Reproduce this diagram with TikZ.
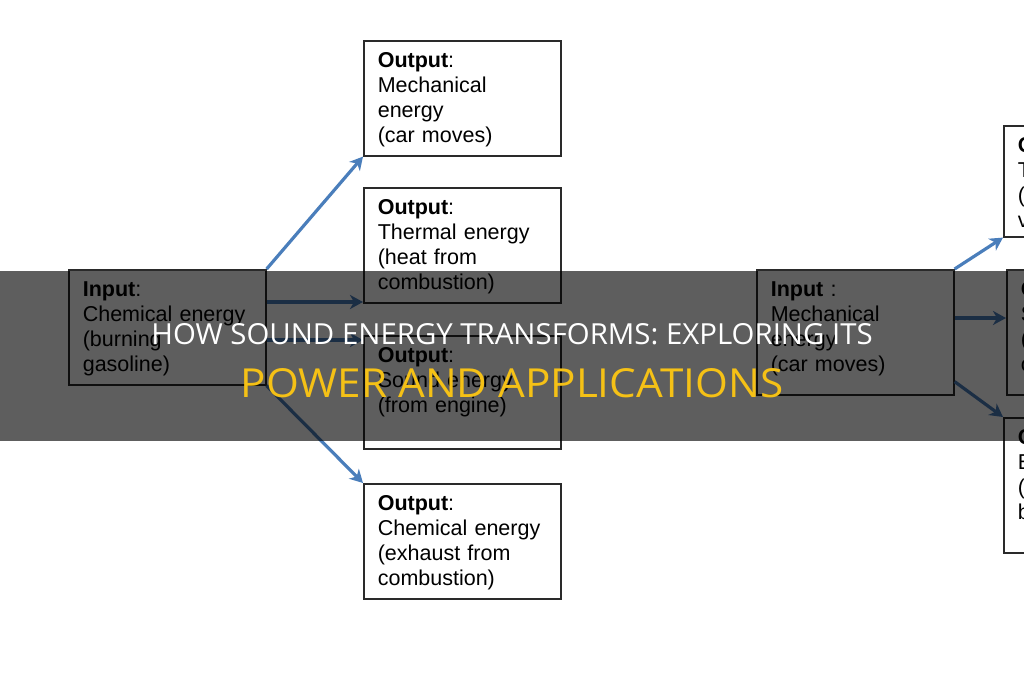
\documentclass[tikz,border=0pt]{standalone}
\usepackage{fontspec}
\setmainfont{Liberation Sans}
\newfontfamily\titlefont{Open Sans}
\usetikzlibrary{arrows.meta,calc}
\definecolor{arrowblue}{HTML}{4A7EBB}
\definecolor{titleyellow}{HTML}{F5C116}
\definecolor{boxline}{HTML}{2A2A2A}
\begin{document}
\begin{tikzpicture}[x=1pt,y=-1pt,
  box/.style={draw=boxline, line width=1.6pt, anchor=north west, align=left,
    inner xsep=14pt, inner ysep=0pt, text width=169pt,
    font=\fontsize{21.5}{25}\selectfont, text height=27pt},
  arr/.style={draw=arrowblue, line width=3.2pt,
    -{Stealth[length=13pt,width=14pt,inset=4pt]}},
  band/.style={fill=black, fill opacity=0.63, draw=none},
  title1/.style={text=white, font=\titlefont\fontsize{29}{31}\selectfont, inner sep=0pt, xscale=1.013, transform shape},
  title2/.style={text=titleyellow, font=\titlefont\fontsize{40}{42}\selectfont, inner sep=0pt, xscale=1.055, transform shape}]
\useasboundingbox (0,0) rectangle (1024,680);
\clip (0,0) rectangle (1024,680);
\fill[white] (0,0) rectangle (1024,680);
% left diagram
\node[box, text depth=88pt] (in1) at (68,269) {\textbf{Input}:\\Chemical energy\\(burning\\gasoline)};
\node[box, text depth=88pt] (o1) at (363,40) {\textbf{Output}:\\Mechanical\\energy\\(car moves)};
\node[box, text depth=88pt] (o2) at (363,187) {\textbf{Output}:\\Thermal energy\\(heat from\\combustion)};
\node[box, text depth=86pt] (o3) at (363,335) {\textbf{Output}:\\Sound energy\\(from engine)};
\node[box, text depth=88pt] (o4) at (363,483) {\textbf{Output}:\\Chemical energy\\(exhaust from\\combustion)};
\draw[arr] (in1.north east) -- (o1.south west);
\draw[arr] ([yshift=-33pt]in1.north east) -- ([yshift=-33pt]in1.north east -| o2.west);
\draw[arr] ([yshift=-71pt]in1.north east) -- ([yshift=-71pt]in1.north east -| o3.west);
\draw[arr] (in1.south east) -- (o4.north west);
% right diagram
\node[box, text depth=98pt] (in2) at (756,269) {\textbf{Input} :\\Mechanical\\energy\\(car moves)};
\node[box, text depth=84pt] (r1) at (1003,125) {\textbf{Output}:\\Thermal energy\\(friction of\\vehicle)};
\node[box, text depth=98pt] (r2) at (1006,269) {\textbf{Output}:\\Sound energy\\(noise of\\car)};
\node[box, text depth=108pt] (r3) at (1003,417) {\textbf{Output}:\\Electrical energy\\(charging\\battery)};
\draw[arr] (in2.north east) -- (r1.south west);
\draw[arr] ([yshift=-49pt]in2.north east) -- ([yshift=-49pt]in2.north east -| r2.west);
\draw[arr] ([yshift=14pt]in2.south east) -- (r3.north west);
% title band
\path[band] (0,271) rectangle (1024,441);
\node[title1] (t1) at (512,334) {HOW SOUND ENERGY TRANSFORMS: EXPLORING ITS};
\node[title2] (t2) at (512,383) {POWER AND APPLICATIONS};
\end{tikzpicture}
\end{document}
